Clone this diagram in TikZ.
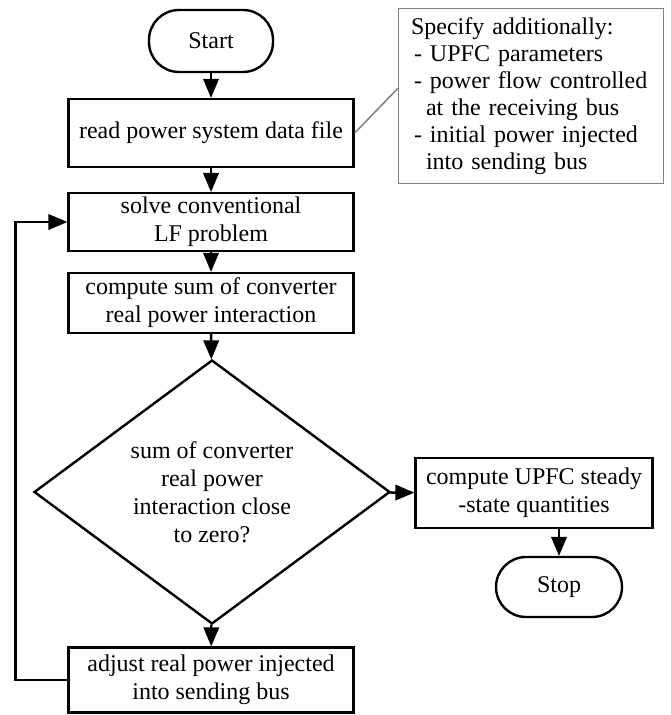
\documentclass[tikz,border=0pt]{standalone}
\usepackage{fontspec}
\setmainfont{Liberation Serif}
\usetikzlibrary{arrows}
\usetikzlibrary{shapes.geometric}
\tikzset{txt/.style={font=\fontsize{12}{14}\selectfont}}
\tikzset{box/.style={txt,draw,align=center,minimum width=142.5pt,inner sep=2pt}}
\tikzset{term/.style={txt,draw,rounded corners=15pt,minimum width=62pt,minimum height=31pt}}
\tikzset{dec/.style={txt,draw,diamond,aspect=1.35,align=center,inner sep=1pt,
  minimum width=178pt,minimum height=132pt}}
\tikzset{note/.style={font=\fontsize{12}{13.5}\selectfont,draw=gray,line width=0.75pt,
  text width=120pt,align=left,minimum width=132.5pt,minimum height=87.5pt}}

\begin{document}
\begin{tikzpicture}[x=0.5pt,y=-0.5pt,>=triangle 45,line width=1.2pt]
          \useasboundingbox (0,0) rectangle (670,715);
          \node[term] (start) at (211,41) {Start};
          \node[box,minimum height=34pt] (read) at (211,133) {read power system data file}
            edge [<-] (start);
          \node[box,minimum height=26.5pt] (solve) at (211,222) {solve conventional\\LF problem}
            edge [<-] (read);
          \node[box,minimum height=30pt] (sum) at (211,303) {compute sum of converter\\real power interaction}
            edge [<-] (solve);
          \node[dec] (zero) at (212,492) {sum of converter\\real power\\interaction close\\to zero?}
            edge [<-] (sum);
          \node[box,minimum height=32.5pt] (adjust) at (211,680) {adjust real power injected\\into sending bus}
            edge [<-] (zero);
          \node[box,minimum width=118.5pt,minimum height=35pt] (upfc) at (534,493) {compute UPFC steady\\-state quantities}
            edge [<-] (zero);
          \node[term,minimum width=63pt,minimum height=30pt] (stop) at (559,587) {Stop};
          \draw[->] (upfc.south -| stop) -- (stop);
          \draw[->] (adjust.west) -- ++(-52,0) |- (solve.west);
          % additional input data
          \node[note] (spec) at (531,96) {Specify additionally:\\
            \hspace*{1.5pt}- UPFC parameters\\
            \hspace*{1.5pt}- power flow controlled\\
            \hspace*{7.5pt}at the receiving bus\\
            \hspace*{1.5pt}- initial power injected\\
            \hspace*{7.5pt}into sending bus};
          \draw[gray,line width=0.75pt] (read.east) -- ([yshift=3.75pt]spec.west);
        \end{tikzpicture}
\end{document}
